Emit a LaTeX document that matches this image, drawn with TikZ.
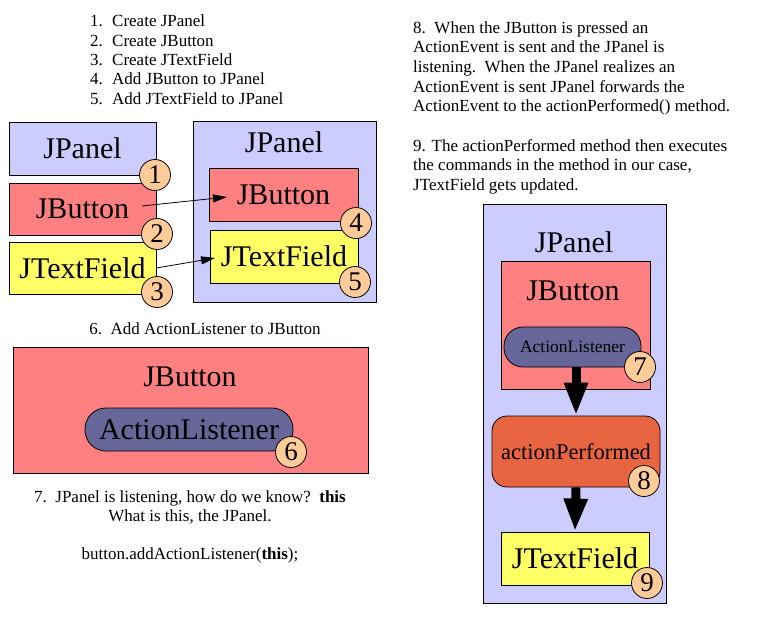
\documentclass[tikz,border=0pt]{standalone}
\usepackage{fontspec}
\setmainfont{Liberation Serif}
\usetikzlibrary{arrows.meta}
\definecolor{panel}{HTML}{CCCCFF}
\definecolor{button}{HTML}{FF8080}
\definecolor{tfield}{HTML}{FFFF66}
\definecolor{listener}{HTML}{666699}
\definecolor{peach}{HTML}{FFCC99}
\definecolor{perf}{HTML}{E96440}
\tikzset{
  txt/.style={font=\fontsize{17}{19.6}\selectfont, inner sep=0pt},
  big/.style={font=\fontsize{30}{34}\selectfont},
  box/.style={draw=black, line width=0.8pt, inner sep=0pt, big},
  lbl/.style={inner sep=0pt, big},
  num/.style={circle, draw=black, line width=0.8pt, fill=peach, minimum size=31pt, inner sep=0pt, font=\fontsize{27}{30}\selectfont},
  thin/.style={line width=0.8pt, -{Triangle[length=14pt,width=8pt]}},
  fat/.style={line width=9pt, -{Triangle[length=33pt,width=22pt]}}
}
\begin{document}
\begin{tikzpicture}[x=1pt,y=-1pt]
\useasboundingbox (0,0) rectangle (769,624);
% top list
\foreach \n/\t [count=\i from 0] in {1/Create JPanel,2/Create JButton,3/Create JTextField,4/Add JButton to JPanel,5/Add JTextField to JPanel}{
  \node[txt, anchor=base west] (ln\n) at (90,26.7+19.35*\i) {\n.};
  \node[txt, anchor=base west] (lt\n) at (112,26.7+19.35*\i) {\t};
}
% left column boxes
\node[box, fill=panel, minimum width=147pt, minimum height=53pt] (lp) at (82.5,148.5) {JPanel};
\node[box, fill=button, minimum width=147pt, minimum height=52pt] (lb) at (82.5,209) {JButton};
\node[box, fill=tfield, minimum width=147pt, minimum height=52pt] (ltf) at (82.5,268) {JTextField};
% right panel
\node[box, fill=panel, minimum width=183pt, minimum height=181pt] (rp) at (284.5,211.5) {};
\node[lbl] (rpl) at (284,142) {JPanel};
\node[box, fill=button, minimum width=149pt, minimum height=53pt] (rb) at (283.5,194.5) {JButton};
\node[box, fill=tfield, minimum width=148pt, minimum height=53pt] (rtf) at (284,256.5) {JTextField};
\node[num] (c1) at (155,175) {1};
\node[num] (c2) at (157,234) {2};
\node[num] (c3) at (157,292) {3};
\node[num] (c4) at (356,223) {4};
\node[num] (c5) at (355,282) {5};
\coordinate (s1) at (142,206);
\coordinate (e1) at (227,197);
\coordinate (e2) at (215,258);
\draw[thin] (s1) -- (e1);
\draw[thin] (ltf.east) -- (e2);
% step 6
\node[txt, anchor=base] (t6) at (205,334) {6.\ \ Add ActionListener to JButton};
\node[box, fill=button, minimum width=355pt, minimum height=126pt] (bb) at (190.5,410) {};
\node[lbl] (bbl) at (190,377) {JButton};
\node[box, fill=listener, rounded corners=21pt, minimum width=208pt, minimum height=43pt] (bal) at (189,429.5) {ActionListener};
\node[num] (c6) at (291,452) {6};
% step 7
\node[txt, anchor=base] (t7a) at (190,502) {7.\ \ JPanel is listening, how do we know?\ \ \textbf{this}};
\node[txt, anchor=base] (t7b) at (190,521.5) {What is this, the JPanel.};
\node[txt, anchor=base] (t7c) at (190,559) {button.addActionListener(\textbf{this});};
% right text
\foreach \t/\y in {{8.\ \ When the JButton is pressed an}/33.3,
  {ActionEvent is sent and the JPanel is}/52.9,
  {listening.\ \ When the JPanel realizes an}/72.5,
  {ActionEvent is sent JPanel forwards the}/92.1,
  {ActionEvent to the actionPerformed() method.}/111.7,
  {9. The actionPerformed method then executes}/151,
  {the commands in the method in our case,}/170.6,
  {JTextField gets updated.}/190.2}{
  \node[txt, anchor=base west] at (413,\y) {\t};
}
% right flow
\node[box, fill=panel, minimum width=183pt, minimum height=399pt] (fp) at (574.5,403.5) {};
\node[lbl] (fpl) at (574,242) {JPanel};
\node[box, fill=button, minimum width=149pt, minimum height=128pt] (fb) at (575.5,325) {};
\node[lbl] (fbl) at (573,291) {JButton};
\node[box, fill=listener, rounded corners=19pt, minimum width=137pt, minimum height=40pt, font=\fontsize{17.5}{20}\selectfont] (fal) at (572.5,347) {ActionListener};
\node[box, fill=perf, rounded corners=15pt, minimum width=168pt, minimum height=71pt, font=\fontsize{22.5}{26}\selectfont] (fap) at (576,451.5) {actionPerformed};
\node[box, fill=tfield, minimum width=148pt, minimum height=53pt] (ftf) at (575,558.5) {JTextField};
\draw[fat] (fal.south -| fap.north) -- (fap.north);
\draw[fat] (fap.south) -- (ftf.north);
\node[num] (c7) at (640,367) {7};
\node[num] (c8) at (644,481) {8};
\node[num] (c9) at (647,583) {9};
\end{tikzpicture}
\end{document}
